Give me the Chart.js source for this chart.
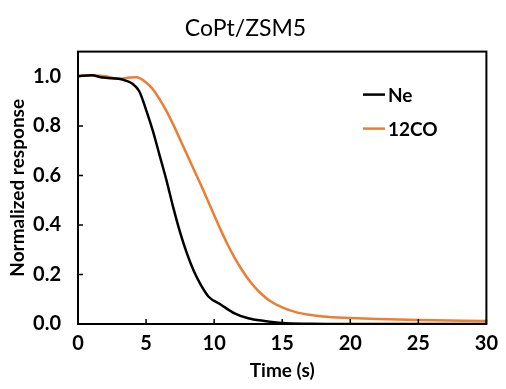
<!DOCTYPE html>
<html>
<head>
<meta charset="utf-8">
<script src="https://cdn.jsdelivr.net/npm/chart.js@4"></script>
<style>
  html, body { margin: 0; padding: 0; background: #fff; }
  #wrap { width: 506px; height: 389px; }
</style>
</head>
<body>
<div id="wrap"><canvas id="chart" width="506" height="389"></canvas></div>
<script>
// --- DATA ---
const timeNe = [0, 1, 1.8, 3, 3.5, 4, 4.5, 5, 5.5, 6, 6.5, 7, 7.5, 8, 8.5, 9, 9.6, 10.5, 11.5, 12.5, 13.7, 15, 17, 20, 25, 30];
const ne     = [1.0, 1.005, 0.995, 0.99, 0.983, 0.97, 0.94, 0.865, 0.78, 0.68, 0.58, 0.47, 0.37, 0.285, 0.215, 0.16, 0.11, 0.078, 0.043, 0.023, 0.012, 0.004, 0.001, 0, 0, 0];

const timeCO = [0, 0.8, 2, 3, 3.8, 4.3, 5, 5.5, 6, 6.5, 7, 7.5, 8, 8.5, 9, 9.5, 10, 10.5, 11, 11.5, 12, 12.5, 13, 13.5, 14, 15, 16, 17, 18, 20, 22, 25, 30];
const co     = [1.0, 1.005, 1.0, 0.99, 0.995, 0.996, 0.975, 0.948, 0.907, 0.86, 0.805, 0.745, 0.685, 0.625, 0.565, 0.503, 0.44, 0.378, 0.32, 0.268, 0.222, 0.182, 0.148, 0.12, 0.097, 0.067, 0.048, 0.037, 0.03, 0.024, 0.02, 0.016, 0.012];

const seriesNames = ['Ne', '12CO'];
const seriesColors = ['#000000', '#ED7D31'];
const xTicks = [0, 5, 10, 15, 20, 25, 30];
const yTicks = [0, 0.2, 0.4, 0.6, 0.8, 1.0];

const FONT = "Lato, 'Open Sans', sans-serif";

const toPoints = (xs, ys) => xs.map((x, i) => ({ x: x, y: ys[i] }));

// --- frame, inward ticks and legend ---
const framePlugin = {
    id: 'frame',
    afterDraw(chart) {
        const { ctx, chartArea: a, scales } = chart;
        ctx.save();
        ctx.strokeStyle = '#000';
        ctx.lineWidth = 1.5;
        ctx.beginPath();
        xTicks.forEach(v => {
            const px = scales.x.getPixelForValue(v);
            ctx.moveTo(px, a.bottom);
            ctx.lineTo(px, a.bottom - 5);
        });
        yTicks.forEach(v => {
            const py = scales.y.getPixelForValue(v);
            ctx.moveTo(a.left, py);
            ctx.lineTo(a.left + 5, py);
        });
        ctx.stroke();

        ctx.lineWidth = 2;
        ctx.strokeRect(a.left, a.top, a.right - a.left, a.bottom - a.top);

        // legend
        ctx.font = 'bold 19px ' + FONT;
        ctx.textBaseline = 'middle';
        ctx.textAlign = 'left';
        const lx = a.left + 285;
        const ly = [a.top + 43, a.top + 77];
        chart.data.datasets.forEach((ds, i) => {
            ctx.strokeStyle = ds.borderColor;
            ctx.lineWidth = 2.5;
            ctx.beginPath();
            ctx.moveTo(lx, ly[i]);
            ctx.lineTo(lx + 22, ly[i]);
            ctx.stroke();
            ctx.fillStyle = '#000';
            ctx.fillText(ds.label, lx + 25, ly[i] + 1);
        });
        ctx.restore();
    }
};

new Chart(document.getElementById('chart'), {
    type: 'line',
    data: {
        datasets: [
            {
                label: seriesNames[0],
                data: toPoints(timeNe, ne),
                borderColor: seriesColors[0],
                borderWidth: 2.5,
                pointRadius: 0,
                cubicInterpolationMode: 'monotone'
            },
            {
                label: seriesNames[1],
                data: toPoints(timeCO, co),
                borderColor: seriesColors[1],
                borderWidth: 2.5,
                pointRadius: 0,
                cubicInterpolationMode: 'monotone'
            }
        ]
    },
    options: {
        responsive: false,
        animation: false,
        layout: { padding: { left: 0, right: 15, top: 0, bottom: 0 } },
        plugins: {
            legend: { display: false },
            tooltip: { enabled: false },
            title: {
                display: true,
                text: 'CoPt/ZSM5',
                color: '#000',
                font: { family: FONT, size: 23, weight: 'normal' },
                padding: { top: 15, bottom: 9 }
            }
        },
        scales: {
            x: {
                type: 'linear',
                min: 0,
                max: 30,
                grid: { display: false, drawTicks: false },
                border: { display: false },
                afterBuildTicks: s => { s.ticks = xTicks.map(v => ({ value: v })); },
                afterFit: s => { s.height = 65; },
                ticks: {
                    color: '#000',
                    padding: 8,
                    maxRotation: 0,
                    font: { family: FONT, size: 20, weight: 'bold' }
                },
                title: {
                    display: true,
                    text: 'Time (s)',
                    color: '#000',
                    padding: { top: 0, bottom: 7 },
                    font: { family: FONT, size: 19, weight: 'bold' }
                }
            },
            y: {
                min: 0,
                max: 1.1,
                grid: { display: false, drawTicks: false },
                border: { display: false },
                afterBuildTicks: s => { s.ticks = yTicks.map(v => ({ value: v })); },
                afterFit: s => { s.width = 78; },
                ticks: {
                    color: '#000',
                    padding: 17,
                    callback: v => Number(v).toFixed(1),
                    font: { family: FONT, size: 20, weight: 'bold' }
                },
                title: {
                    display: true,
                    text: 'Normalized response',
                    color: '#000',
                    padding: { top: 6, bottom: 0 },
                    font: { family: FONT, size: 19, weight: 'bold' }
                }
            }
        }
    },
    plugins: [framePlugin]
});
</script>
</body>
</html>
